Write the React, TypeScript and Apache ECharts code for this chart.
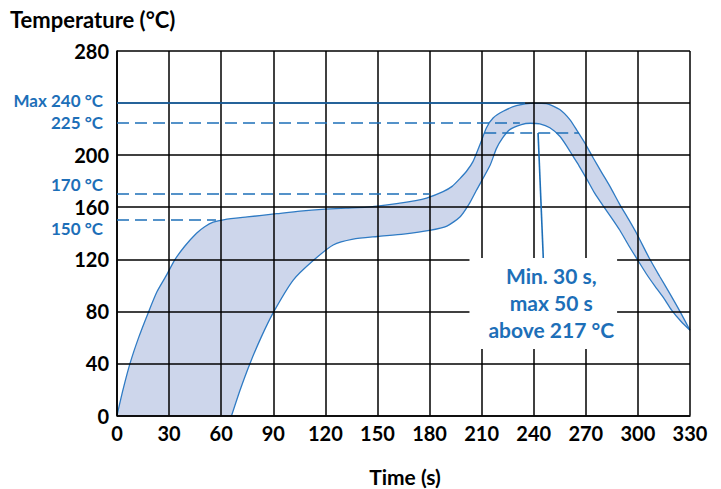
import React, { useEffect, useRef } from "react";
import * as echarts from "echarts";

// Upper (max) reflow profile: time (s) and temperature (°C)
const upperTime = [0, 3.5, 7.5, 12.5, 18, 23, 28.6, 33, 39, 45.8, 50.5, 55.4, 62, 75, 91.9, 105.4, 120, 132, 143.8, 161, 172, 178.3, 187.8, 193, 197.5, 201.5, 205, 209, 212.8, 216.6, 222.4, 230, 239.6, 247.3, 255, 260.8, 264.6, 269.4, 274.2, 279, 283.9, 289.6, 294.5, 299.2, 306.5, 312.5, 318.4, 324.2, 330];
const upperTemp = [0, 20, 40, 60, 79, 95, 108, 119, 130, 140, 145, 148.5, 150.5, 152.5, 155, 157, 158.5, 159.3, 160, 162.7, 165, 167, 172, 176, 182, 188, 195, 208, 221, 228.5, 233.7, 238, 240, 239.6, 235, 227.3, 219.6, 209.4, 198, 187, 176, 162, 151, 140, 121, 107, 93.6, 80, 65.5];

// Lower (min) reflow profile
const lowerTime = [66, 71, 76.6, 83, 90, 101.5, 113, 124.5, 136, 150, 165, 180, 190, 197.5, 203, 207, 214.8, 218.5, 222, 226.2, 232.9, 238, 243.5, 249.3, 255, 259, 262.7, 266, 270.4, 275, 280, 285, 289.6, 294.5, 299.6, 305, 310, 315, 319.4, 325, 330];
const lowerTemp = [0, 20, 40, 60, 79, 104, 119, 131, 135.5, 137.5, 139.4, 142.2, 145.5, 152.5, 163, 173, 192, 205, 213, 219.6, 223.5, 224.5, 224, 221, 214.5, 207, 199, 192, 182, 171, 161, 151.5, 142.3, 131, 120, 108.5, 99, 90, 81, 72, 65.5];

// Reference temperature lines (label, temperature, end time, dashed)
const refLabels = ["Max 240 °C", "225 °C", "170 °C", "150 °C"];
const refTemps = [240, 225, 170, 150];
const refEnds = [235, 232, 180, 57];
const refDashed = [false, true, true, true];
// label placement relative to its line: -1 above, 0 centred, 1 below
const refShift = [-1, 0, -1, 1];
const refShiftSize = [5, 0, 20, 17];

// 217 °C window line and the note
const liquidusTemp = 217;
const liquidusFrom = 211.5;
const liquidusTo = 266;
const noteFrom = [242.5, 217];
const noteTo = [245.5, 121];
const noteLines = ["Min. 30 s,", "max 50 s", "above 217 °C"];

const xTitle = "Time (s)";
const yTitle = "Temperature (°C)";

const BLUE = "#1d6fb8";
const CURVE = "#2f7bc4";
const FILL = "#cdd6eb";
const FONT = "Lato, 'Open Sans', sans-serif";

export default function App() {
  const ref = useRef<HTMLDivElement>(null);
  useEffect(() => {
    if (!ref.current) return;
    const chart = echarts.init(ref.current, null, { renderer: "svg" });

    const zip = (a: number[], b: number[]) => a.map((v, i) => [v, b[i]]);

    const refData: any[] = refTemps.map((t, i) => {
      const s = refShift[i];
      const text =
        s < 0 ? refLabels[i] + "\n" : s > 0 ? "\n" + refLabels[i] : refLabels[i];
      return [
        {
          coord: [0, t],
          lineStyle: {
            color: BLUE,
            width: 1.6,
            type: refDashed[i] ? [12, 6] : "solid",
          },
          label: {
            show: true,
            position: "start",
            distance: 14,
            formatter: text,
            color: BLUE,
            fontFamily: FONT,
            fontWeight: "bold",
            fontSize: 17,
            lineHeight: s === 0 ? 17 : refShiftSize[i],
          },
        },
        { coord: [refEnds[i], t] },
      ];
    });
    refData.push([
      {
        coord: [liquidusFrom, liquidusTemp],
        lineStyle: { color: BLUE, width: 1.6, type: [12, 6] },
        label: { show: false },
      },
      { coord: [liquidusTo, liquidusTemp] },
    ]);
    refData.push([
      {
        coord: noteFrom,
        lineStyle: { color: BLUE, width: 1.6, type: "solid" },
        label: {
          show: true,
          position: "end",
          distance: 0,
          formatter: noteLines.join("\n"),
          color: BLUE,
          fontFamily: FONT,
          fontWeight: "bold",
          fontSize: 21,
          lineHeight: 27,
          backgroundColor: "#ffffff",
          padding: [4, 3, 6, 19],
        },
      },
      { coord: noteTo },
    ]);

    chart.setOption({
      animation: false,
      backgroundColor: "#ffffff",
      grid: { left: 117, right: 31, top: 51, bottom: 73.5, containLabel: false },
      xAxis: {
        type: "value",
        min: 0,
        max: 330,
        interval: 30,
        z: 3,
        axisLine: { show: true, lineStyle: { color: "#000", width: 1.6 } },
        axisTick: { show: false },
        splitLine: { show: true, lineStyle: { color: "#000", width: 1.5 } },
        axisLabel: {
          color: "#000",
          fontFamily: FONT,
          fontWeight: "bold",
          fontSize: 20,
          margin: 7,
        },
      },
      yAxis: {
        type: "value",
        min: 0,
        max: 280,
        interval: 40,
        z: 3,
        axisLine: { show: true, lineStyle: { color: "#000", width: 1.6 } },
        axisTick: { show: false },
        splitLine: { show: true, lineStyle: { color: "#000", width: 1.5 } },
        axisLabel: {
          color: "#000",
          fontFamily: FONT,
          fontWeight: "bold",
          fontSize: 20,
          lineHeight: 16,
          margin: 8,
          formatter: (v: number) => (v === 240 ? "" : String(v)),
        },
      },
      graphic: [
        {
          type: "text",
          x: 10,
          y: 19.5,
          style: {
            text: yTitle,
            fill: "#000",
            font: `bold 22px ${FONT}`,
            align: "left",
            verticalAlign: "middle",
          },
        },
        {
          type: "text",
          x: 405,
          y: 476,
          style: {
            text: xTitle,
            fill: "#000",
            font: `bold 21px ${FONT}`,
            align: "center",
            verticalAlign: "middle",
          },
        },
      ],
      series: [
        {
          type: "line",
          data: zip(upperTime, upperTemp),
          symbol: "none",
          smooth: 0.2,
          z: 2,
          lineStyle: { color: CURVE, width: 1.3 },
          areaStyle: { color: FILL, opacity: 1 },
          silent: true,
        },
        {
          type: "line",
          data: zip(lowerTime, lowerTemp),
          symbol: "none",
          smooth: 0.2,
          z: 2,
          lineStyle: { color: CURVE, width: 1.3 },
          areaStyle: { color: "#ffffff", opacity: 1 },
          silent: true,
        },
        {
          type: "line",
          data: [],
          z: 4,
          silent: true,
          markLine: {
            silent: true,
            symbol: ["none", "none"],
            animation: false,
            data: refData,
          },
        },
      ],
    });
    return () => chart.dispose();
  }, []);
  return (
    <div
      ref={ref}
      style={{ position: "fixed", left: 0, top: 0, width: 721, height: 489 }}
    />
  );
}
